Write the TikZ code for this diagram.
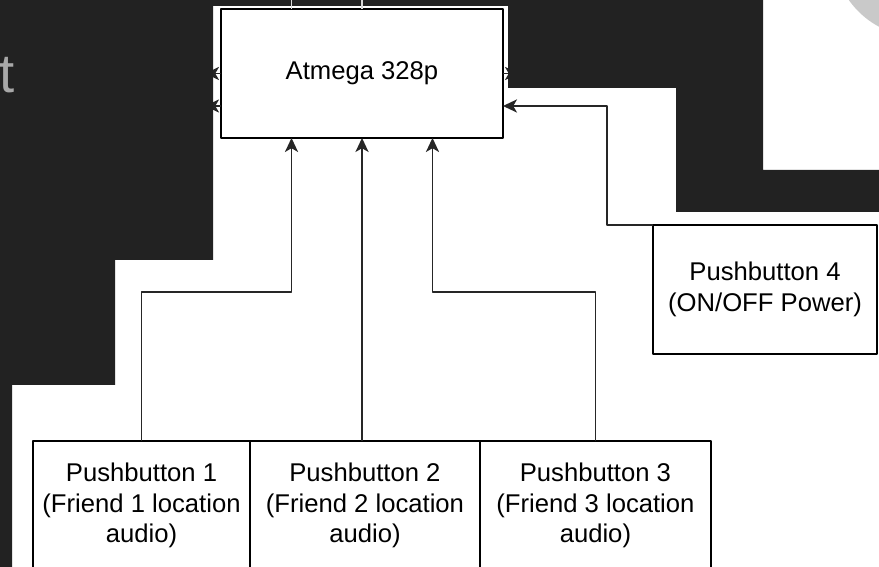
\documentclass[tikz,border=0pt]{standalone}
\usepackage{fontspec}
\setmainfont{Liberation Sans}
\usetikzlibrary{positioning,arrows.meta}
\definecolor{slidebg}{HTML}{222222}
\definecolor{wiregray}{HTML}{262626}
\definecolor{arcgray}{HTML}{C9C9C9}
\definecolor{tgray}{HTML}{A8A8A8}
\definecolor{stubgray}{HTML}{D8D8D8}
\begin{document}
\begin{tikzpicture}[x=0.02cm, y=-0.02cm, font=\fontsize{14.6pt}{17.5pt}\selectfont, line join=round,
		>={Stealth[length=8pt,width=7.5pt,inset=2.2pt]},
		block/.style={draw=black, line width=1pt, fill=white, align=center, inner sep=0pt, outer sep=0pt, minimum height=2.58cm},
		wire/.style={draw=wiregray, line width=0.85pt, ->}]
	\useasboundingbox (0,0) rectangle (879,567);
	\clip (0,0) rectangle (879,567);
	\fill[white] (0,0) rectangle (879,567);
	\coordinate (rail) at (0,292);
	% Blocks
	\node[block, minimum width=5.64cm] (mcu) at (362,73.5) {Atmega 328p};
	\node[block, minimum width=4.34cm] (pb1) at (141.5,505.5) {Pushbutton 1\\(Friend 1 location\\audio)};
	\node[block, minimum width=4.6cm, right=0pt of pb1] (pb2) {Pushbutton 2\\(Friend 2 location\\audio)};
	\node[block, minimum width=4.62cm, right=0pt of pb2] (pb3) {Pushbutton 3\\(Friend 3 location\\audio)};
	\node[block, minimum width=4.48cm] (pb4) at (765,289.5) {Pushbutton 4\\(ON/OFF Power)};
	% Wires
	\draw[wire] (pb1.north) -- (pb1.north |- rail) -| ([xshift=1.41cm]mcu.south west);
	\draw[wire] (mcu.south |- pb2.north) -- (mcu.south);
	\draw[wire] (pb3.north) -- (pb3.north |- rail) -| ([xshift=-1.41cm]mcu.south east);
	\draw[wire] (pb4.north west) -- ++(-46,0) |- ([yshift=-0.65cm]mcu.east);
	\draw[wire] (mcu.west) -- ++(-16,0);
	\draw[wire] ([yshift=-0.65cm]mcu.west) -- ++(-16,0);
	\draw[wire] (mcu.east) -- ++(16,0);
	% Slide behind
	\begin{scope}
		\clip (763,0) rectangle (879,170);
		\fill[arcgray] (920,-50) circle (1.74cm);
	\end{scope}
	\fill[slidebg, even odd rule] (-10,-10) rectangle (890,580)
		(213,6) -- (508,6) -- (508,88) -- (676,88) -- (676,212) -- (890,212) -- (890,580)
		-- (12,580) -- (12,385) -- (115,385) -- (115,260) -- (213,260) -- cycle
		(763,-10) rectangle (890,170);
	\draw[stubgray, line width=0.7pt] ([xshift=1.41cm]mcu.north west) -- ++(0,-9);
	\draw[stubgray, line width=0.7pt] (mcu.north) -- ++(0,-9);
	\node[text=tgray, font=\fontsize{31pt}{31pt}\selectfont, anchor=base west, inner sep=0pt] (tt) at (-1,93) {t};
\end{tikzpicture}
\end{document}
